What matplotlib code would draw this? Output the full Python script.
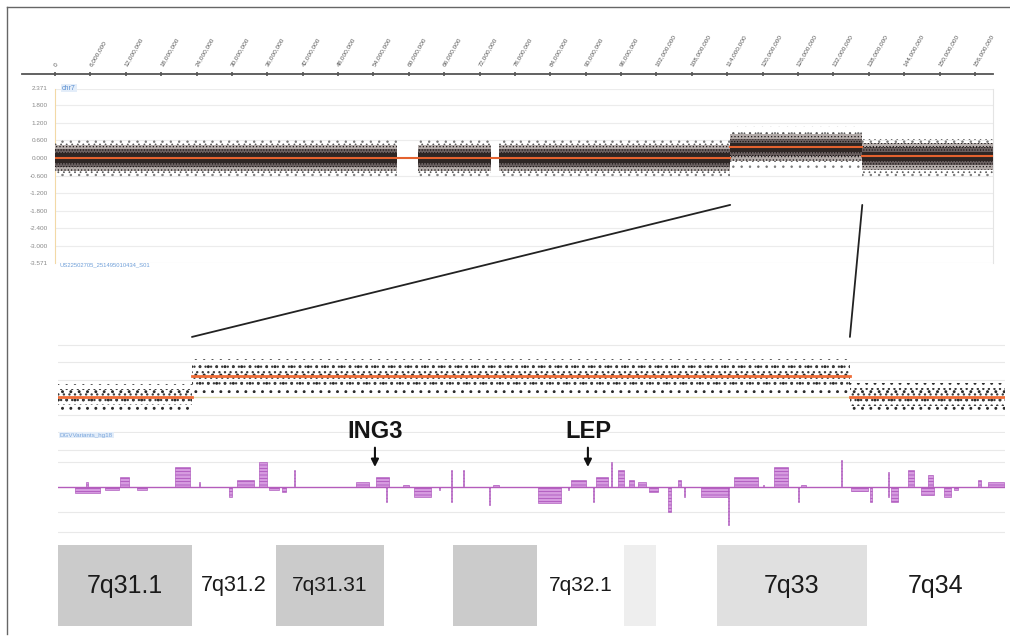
import numpy as np
import matplotlib
matplotlib.use('Agg')
import matplotlib.pyplot as plt
from matplotlib.patches import ConnectionPatch
from matplotlib.lines import Line2D

plt.rcParams['font.family'] = ['Liberation Sans', 'DejaVu Sans']
plt.rcParams['hatch.linewidth'] = 0.5

W, H = 1010, 639

# ---------------- whole chromosome 7 (positions in Mb) ----------------
ruler_ticks = [0, 6, 12, 18, 24, 30, 36, 42, 48, 54, 60, 66, 72, 78, 84, 90,
               96, 102, 108, 114, 120, 126, 132, 138, 144, 150, 156]
top_yticks = [2.371, 1.8, 1.2, 0.6, 0.0, -0.6, -1.2, -1.8, -2.4, -3.0, -3.571]
chr_end = 159.07

# probe clouds (start, end, median log2 ratio)
cloud_start = [0.0, 61.6, 75.3, 114.5, 136.9]
cloud_end = [58.0, 74.0, 114.5, 136.9, 159.0]
cloud_level = [0.0, 0.0, 0.0, 0.36, 0.06]

# segmentation calls
seg_start = [0.0, 114.5, 136.9]
seg_end = [114.5, 136.9, 159.0]
seg_level = [0.0, 0.36, 0.06]

# ---------------- zoom on 7q31.1 - 7q34 ----------------
zoom_lim = (109.94, 142.18)
zoom_start = [109.94, 114.5, 136.9]
zoom_end = [114.5, 136.9, 142.18]
zoom_level = [0.0, 0.36, 0.0]
zoom_spread = [0.22, 0.29, 0.24]
zoom_grid = [0.9, 0.6, 0.3, -0.3, -0.6]

# copy number variant track (start Mb, end Mb, count; negative = loss)
cnv_start = [110.51, 110.90, 111.53, 112.04, 112.62, 113.91, 114.74, 115.75, 116.02, 116.77,
             117.11, 117.55, 117.97, 120.10, 120.78, 121.10, 121.70, 122.07, 122.91, 123.31,
             123.31, 123.72, 124.61, 124.76, 126.29, 127.29, 127.41, 128.14, 128.27, 128.76,
             129.01, 129.39, 129.69, 130.05, 130.71, 131.05, 131.24, 131.84, 132.74, 132.96,
             133.93, 134.32, 135.12, 135.24, 136.58, 136.94, 137.60, 138.18, 138.18, 138.30,
             138.88, 139.32, 139.56, 140.10, 140.44, 141.26, 141.60]
cnv_end = [111.36, 110.95, 112.01, 112.35, 112.96, 114.42, 114.79, 115.85, 116.60, 117.04,
           117.48, 117.69, 118.01, 120.54, 121.22, 121.14, 121.90, 122.65, 122.95, 123.35,
           123.35, 123.76, 124.65, 124.97, 127.07, 127.33, 127.93, 128.18, 128.67, 128.80,
           129.22, 129.56, 129.95, 130.37, 130.82, 131.16, 131.28, 132.76, 132.78, 133.78,
           133.97, 134.80, 135.16, 135.41, 136.62, 137.52, 137.64, 138.22, 138.22, 138.54,
           139.08, 139.76, 139.73, 140.34, 140.58, 141.36, 142.14]
cnv_count = [-2.5, 2, -1, 4, -1, 8, 2, -4, 3, 10,
             -1, -2, 7, 2, 4, -6, 1, -4, -1, -6,
             7, 7, -7, 1, -6.5, -1, 3, -6, 4, 10,
             7, 3, 2, -2, -10, 3, -4, -4, -15, 4,
             1, 8, -6, 1, 11, -1.5, -6, 6, -4, -6,
             7, -3, 5, -4, -1, 3, 2]
cnv_grid = [15, 10, -10, -18]

genes = ['ING3', 'LEP']
gene_pos = [120.73, 127.98]

# cytobands
band_start = [109.94, 114.50, 117.36, 121.04, 123.39, 126.25, 129.21, 130.30, 132.37, 137.48]
band_end = [114.50, 117.36, 121.04, 123.39, 126.25, 129.21, 130.30, 132.37, 137.48, 142.18]
band_name = ['7q31.1', '7q31.2', '7q31.31', '7q31.32', '7q31.33',
             '7q32.1', '7q32.2', '7q32.3', '7q33', '7q34']
band_shown = [True, True, True, False, False, True, False, False, True, True]
band_color = ['#cbcbcb', 'white', '#cbcbcb', 'white', '#cbcbcb',
              'white', '#eeeeee', 'white', '#e0e0e0', 'white']
band_fs = [18, 15.5, 15, 15, 15, 15, 15, 15, 18, 18]


def px_rect(l, t, r, b):
    return [l / W, 1 - b / H, (r - l) / W, (b - t) / H]


def bare(ax):
    for s in ax.spines.values():
        s.set_visible(False)
    ax.set_xticks([])
    ax.set_yticks([])


fig = plt.figure(figsize=(W / 100, H / 100), dpi=100)

# outer frame (image is cropped on right/bottom)
fig.add_artist(Line2D([7 / W, 1.0], [1 - 7 / H, 1 - 7 / H], transform=fig.transFigure,
                      color='#666666', lw=1.0))
fig.add_artist(Line2D([7 / W, 7 / W], [1 - 7 / H, 1 - 634 / H], transform=fig.transFigure,
                      color='#666666', lw=1.0))

# ---- ruler ----
ax_r = fig.add_axes(px_rect(22, 74, 993, 75))
ax_r.set_xlim(-5.6, chr_end)
ax_r.set_ylim(0, 1)
for k in ['left', 'right', 'bottom']:
    ax_r.spines[k].set_visible(False)
ax_r.spines['top'].set_color('#555555')
ax_r.spines['top'].set_linewidth(1.3)
ax_r.set_yticks([])
ax_r.set_xticks(ruler_ticks)
ax_r.set_xticklabels(['{:,}'.format(t * 1000000) for t in ruler_ticks])
ax_r.tick_params(axis='x', top=True, bottom=False, labeltop=True, labelbottom=False,
                 direction='inout', length=3, width=1.2, color='#555555',
                 labelsize=4.6, labelcolor='#555555', pad=4)
for lab in ax_r.get_xticklabels():
    lab.set_rotation(60)
    lab.set_ha('left')
    lab.set_va('center')
    lab.set_rotation_mode('anchor')

# ---- whole chromosome plot ----
ax = fig.add_axes(px_rect(55, 88.5, 993, 262.7))
ax.set_xlim(0, chr_end)
ax.set_ylim(top_yticks[-1], top_yticks[0])
for y in top_yticks:
    ax.axhline(y, color='#ececec', lw=0.8, zorder=0)
for k in ['top', 'bottom']:
    ax.spines[k].set_visible(False)
ax.spines['left'].set_color('#f2d9a6')
ax.spines['right'].set_color('#e4e4e4')
ax.set_xticks([])
ax.set_yticks(top_yticks)
ax.set_yticklabels(['{:.3f}'.format(y) for y in top_yticks])
ax.tick_params(axis='y', length=0, labelsize=4.6, labelcolor='#888888', pad=5)

# probe clouds: sparse halo, dense body, dark core
cloud_layers = [(0.72, 'none', '#777777', '..'),
                (0.60, 'none', '#555555', '...'),
                (0.46, '#b4acaa', '#1e1a1a', '.....'),
                (0.30, '#6a6060', '#141010', '......'),
                (0.16, '#2e2624', None, None)]
for s, e, lv in zip(cloud_start, cloud_end, cloud_level):
    for z, (hw, fc, ec, hatch) in enumerate(cloud_layers):
        ax.bar(s, 2 * hw, bottom=lv - hw, width=e - s, align='edge', facecolor=fc,
               edgecolor=ec if ec else 'none', hatch=hatch, lw=0, zorder=2 + z)
for s, e, lv in zip(seg_start, seg_end, seg_level):
    ax.plot([s, e], [lv, lv], color='#e4622f', lw=1.5, zorder=9)

fig.text(62 / W, 1 - 88 / H, 'chr7', fontsize=5, color='#5b8fd0', va='center',
         bbox=dict(facecolor='#e3edf9', edgecolor='none', pad=0.6))
fig.text(60 / W, 1 - 265 / H, 'US22502705_251495010434_S01', fontsize=4.2,
         color='#6f9fd8', va='center')

# ---- zoom scatter ----
ax_m = fig.add_axes(px_rect(58, 343, 1005, 433))
ax_m.set_xlim(*zoom_lim)
ax_m.set_ylim(-0.617, 0.926)
bare(ax_m)
for y in zoom_grid:
    ax_m.axhline(y, color='#e9e9e9', lw=0.8, zorder=0)
ax_m.axhline(0, color='#e2dfb4', lw=1.0, zorder=0)
plt.rcParams['hatch.linewidth'] = 0.9
for s, e, lv, sp in zip(zoom_start, zoom_end, zoom_level, zoom_spread):
    ax_m.bar(s, 2 * sp, bottom=lv - sp, width=e - s, align='edge', facecolor='none',
             edgecolor='#2a2a2a', hatch='..', lw=0, zorder=2)
    ax_m.bar(s, 1.3 * sp, bottom=lv - 0.65 * sp, width=e - s, align='edge', facecolor='none',
             edgecolor='#3c3c3c', hatch='...', lw=0, zorder=2)
    ax_m.plot([s, e], [lv, lv], color='#ef6d38', lw=2.0, zorder=3)
plt.rcParams['hatch.linewidth'] = 0.5

fig.text(60 / W, 1 - 435 / H, 'DGVVariants_hg18', fontsize=4.5, color='#7aa6dc',
         va='center', bbox=dict(facecolor='#e3edf9', edgecolor='none', pad=0.6))

# ---- CNV track ----
ax_c = fig.add_axes(px_rect(58, 440, 1005, 535))
ax_c.set_xlim(*zoom_lim)
ax_c.set_ylim(-19.2, 18.8)
bare(ax_c)
for y in cnv_grid:
    ax_c.axhline(y, color='#e9e9e9', lw=0.8, zorder=0)
ax_c.bar(cnv_start, cnv_count, width=np.array(cnv_end) - np.array(cnv_start), align='edge',
         facecolor='#d69be0', edgecolor='#a548b5', hatch='-----', lw=0.4, zorder=2)
ax_c.axhline(0, color='#b45cbc', lw=1.0, zorder=3)
for g, p in zip(genes, gene_pos):
    ax_c.annotate(g, xy=(p, 8), xytext=(p, 22), ha='center', va='center', fontsize=17,
                  fontweight='bold', color='#151515', annotation_clip=False,
                  arrowprops=dict(arrowstyle='-|>', color='#111111', lw=1.5,
                                  shrinkA=1, shrinkB=0, mutation_scale=11))

# ---- cytobands ----
ax_b = fig.add_axes(px_rect(58, 545, 1005, 626))
ax_b.set_xlim(*zoom_lim)
ax_b.set_ylim(0, 1)
bare(ax_b)
ax_b.bar(band_start, 1, width=np.array(band_end) - np.array(band_start), align='edge',
         color=band_color, lw=0)
for s, e, n, show, fs in zip(band_start, band_end, band_name, band_shown, band_fs):
    if show:
        ax_b.text((s + e) / 2, 0.5, n, ha='center', va='center', fontsize=fs, color='#1a1a1a')

# ---- connectors between the gained segment and the zoom ----
for x in [seg_start[1], seg_end[1]]:
    con = ConnectionPatch(xyA=(x, -1.6), coordsA=ax.transData,
                          xyB=(x, 1.03), coordsB=ax_m.transData,
                          color='#222222', lw=1.3)
    fig.add_artist(con)

fig.savefig('out.png', dpi=100, facecolor='white')
